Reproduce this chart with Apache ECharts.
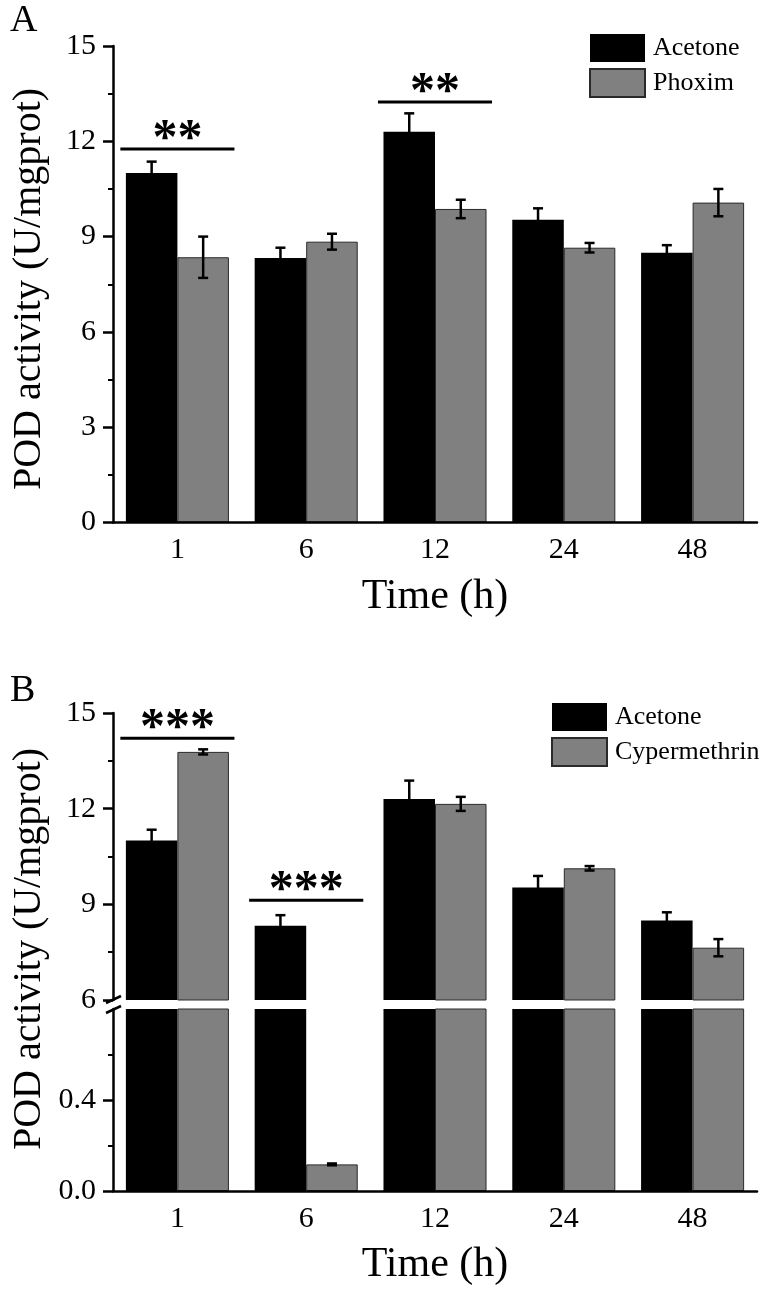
<!DOCTYPE html>
<html><head><meta charset="utf-8">
<script src="https://cdn.jsdelivr.net/npm/echarts@6/dist/echarts.min.js"></script>
<style>html,body{margin:0;padding:0;background:#fff}#c{width:764px;height:1292px}</style>
</head><body><div id="c"></div>
<script>
// ---- data ----
const categories = ['1', '6', '12', '24', '48'];
const acetoneA = [11.0, 8.33, 12.3, 9.53, 8.49];
const acetoneAErr = [0.36, 0.32, 0.58, 0.36, 0.24];
const phoxim = [8.35, 8.84, 9.87, 8.65, 10.07];
const phoximErr = [0.65, 0.25, 0.29, 0.15, 0.43];
const acetoneB = [11.0, 8.33, 12.3, 9.53, 8.49];
const acetoneBErr = [0.34, 0.33, 0.58, 0.36, 0.26];
const cypermethrin = [13.78, 0.117, 12.15, 10.13, 7.64];
const cypermethrinErr = [0.08, 0.004, 0.22, 0.07, 0.27];
const sigACat = [0, 2];
const sigAY = [11.76, 13.24];
const sigAText = ['**', '**'];
const sigBCat = [0, 1];
const sigBY = [14.21, 9.13];
const sigBText = ['***', '***'];
const yTicksA = [0, 3, 6, 9, 12, 15];
const yTicksBUpper = [6, 9, 12, 15];
const yTicksBLower = [0, 0.4];
const yLowerMax = 0.8;

// ---- styling ----
const FONT = '"Liberation Serif", "Times New Roman", serif';
const BLACK = '#000000';
const GRAY = '#808080';

const chart = echarts.init(document.getElementById('c'), null, {renderer: 'canvas'});

function xAxisCommon(gi, showName) {
  return {
    gridIndex: gi, type: 'category', data: categories, z: 5,
    axisLine: {lineStyle: {color: BLACK, width: 2.5}},
    axisTick: {alignWithLabel: true, length: 9, lineStyle: {color: BLACK, width: 2.5}},
    axisLabel: {fontFamily: FONT, fontSize: 30, color: BLACK, margin: 13},
    name: showName ? 'Time (h)' : '',
    nameLocation: 'middle', nameGap: 53,
    nameTextStyle: {fontFamily: FONT, fontSize: 42, color: BLACK}
  };
}
function yAxisCommon(gi, ticks, extra) {
  return Object.assign({
    gridIndex: gi, type: 'value', min: ticks[0], max: ticks[ticks.length - 1],
    interval: ticks[1] - ticks[0], z: 5,
    splitLine: {show: false},
    axisLine: {show: true, lineStyle: {color: BLACK, width: 2.5}},
    axisTick: {show: true, length: 10, lineStyle: {color: BLACK, width: 2.5}},
    minorTick: {show: true, splitNumber: 2, length: 5, lineStyle: {color: BLACK, width: 2}},
    axisLabel: {fontFamily: FONT, fontSize: 30, color: BLACK, margin: 17}
  }, extra || {});
}

function barSeries(name, xi, yi, data, color) {
  return {
    type: 'bar', name: name, xAxisIndex: xi, yAxisIndex: yi, data: data,
    barGap: '0%', barCategoryGap: '20%', clip: true,
    itemStyle: color === BLACK ? {color: BLACK} : {color: color, borderColor: '#2a2a2a', borderWidth: 1},
    emphasis: {disabled: true}, z: 2
  };
}

function errSeries(xi, yi, vals, errs, offset, lo, hi) {
  return {
    type: 'custom', xAxisIndex: xi, yAxisIndex: yi, z: 4, silent: true,
    data: vals.map((v, i) => [i, v, errs[i]]),
    renderItem: function (params, api) {
      const i = api.value(0), v = api.value(1), e = api.value(2);
      if (v < lo || v > hi) return null;
      const bw = api.size([1, 0])[0];
      const c = api.coord([i, v]);
      const x = c[0] + offset * bw;
      const yt = api.coord([i, Math.min(v + e, hi)])[1];
      const yb = api.coord([i, Math.max(v - e, lo)])[1];
      const hw = 5;
      const st = {stroke: BLACK, lineWidth: 2.5};
      return {type: 'group', children: [
        {type: 'line', shape: {x1: x, y1: yt, x2: x, y2: yb}, style: st},
        {type: 'line', shape: {x1: x - hw, y1: yt, x2: x + hw, y2: yt}, style: st},
        {type: 'line', shape: {x1: x - hw, y1: yb, x2: x + hw, y2: yb}, style: st}
      ]};
    }
  };
}

function sigSeries(xi, yi, cats, ys, texts) {
  return {
    type: 'custom', xAxisIndex: xi, yAxisIndex: yi, z: 6, silent: true,
    data: cats.map((c, i) => [c, ys[i]]),
    renderItem: function (params, api) {
      const i = api.value(0), v = api.value(1);
      const bw = api.size([1, 0])[0];
      const c = api.coord([i, v]);
      const hw = 0.443 * bw;
      return {type: 'group', children: [
        {type: 'line', shape: {x1: c[0] - hw, y1: c[1], x2: c[0] + hw, y2: c[1]},
         style: {stroke: BLACK, lineWidth: 3}},
        {type: 'text', x: c[0], y: c[1] - 9,
         style: {text: texts[params.dataIndex], font: 'bold 50px ' + FONT, fill: BLACK,
                 textAlign: 'center', textVerticalAlign: 'middle'}}
      ]};
    }
  };
}

const legendCommon = {
  orient: 'vertical', itemWidth: 55, itemHeight: 28, itemGap: 6, icon: 'rect',
  padding: 0, selectedMode: false,
  textStyle: {fontFamily: FONT, fontSize: 26, color: BLACK, padding: [0, 0, 0, 3]}
};

const option = {
  backgroundColor: '#ffffff',
  animation: false,
  grid: [
    {left: 113, top: 46, width: 644, height: 476.5},
    {left: 113, top: 713, width: 644, height: 287},
    {left: 113, top: 1009, width: 644, height: 182}
  ],
  legend: [
    Object.assign({data: ['Acetone', 'Phoxim'], left: 589, top: 34}, legendCommon),
    Object.assign({data: ['Acetone', 'Cypermethrin'], left: 551, top: 703}, legendCommon)
  ],
  xAxis: [
    xAxisCommon(0, true),
    Object.assign(xAxisCommon(1, false), {show: false}),
    xAxisCommon(2, true)
  ],
  yAxis: [
    yAxisCommon(0, yTicksA),
    yAxisCommon(1, yTicksBUpper),
    yAxisCommon(2, [yTicksBLower[0], yLowerMax], {
      interval: yTicksBLower[1] - yTicksBLower[0],
      axisLabel: {fontFamily: FONT, fontSize: 30, color: BLACK, margin: 17,
                  customValues: yTicksBLower, formatter: v => Number(v).toFixed(1)},
      axisTick: {show: true, length: 10, lineStyle: {color: BLACK, width: 2.5}, customValues: yTicksBLower}
    })
  ],
  series: [
    barSeries('Acetone', 0, 0, acetoneA, BLACK),
    barSeries('Phoxim', 0, 0, phoxim, GRAY),
    barSeries('Acetone', 1, 1, acetoneB, BLACK),
    barSeries('Cypermethrin', 1, 1, cypermethrin, GRAY),
    barSeries('Acetone', 2, 2, acetoneB, BLACK),
    barSeries('Cypermethrin', 2, 2, cypermethrin, GRAY),
    errSeries(0, 0, acetoneA, acetoneAErr, -0.2, 0, 15),
    errSeries(0, 0, phoxim, phoximErr, 0.2, 0, 15),
    errSeries(1, 1, acetoneB, acetoneBErr, -0.2, 6, 15),
    errSeries(1, 1, cypermethrin, cypermethrinErr, 0.2, 6, 15),
    errSeries(2, 2, acetoneB, acetoneBErr, -0.2, 0, yLowerMax),
    errSeries(2, 2, cypermethrin, cypermethrinErr, 0.2, 0, yLowerMax),
    sigSeries(0, 0, sigACat, sigAY, sigAText),
    sigSeries(1, 1, sigBCat, sigBY, sigBText)
  ],
  graphic: [
    {type: 'text', left: 10, top: 2, style: {text: 'A', font: '38px ' + FONT, fill: BLACK}},
    {type: 'text', left: 10, top: 672, style: {text: 'B', font: '38px ' + FONT, fill: BLACK}},
    {type: 'text', x: 29, y: 289, rotation: Math.PI / 2,
     style: {text: 'POD activity (U/mgprot)', font: '40px ' + FONT, fill: BLACK,
             textAlign: 'center', textVerticalAlign: 'middle'}},
    {type: 'text', x: 29, y: 949, rotation: Math.PI / 2,
     style: {text: 'POD activity (U/mgprot)', font: '40px ' + FONT, fill: BLACK,
             textAlign: 'center', textVerticalAlign: 'middle'}},
    {type: 'line', shape: {x1: 106, y1: 1003, x2: 121, y2: 996}, style: {stroke: BLACK, lineWidth: 2.5}},
    {type: 'line', shape: {x1: 106, y1: 1013, x2: 121, y2: 1006}, style: {stroke: BLACK, lineWidth: 2.5}}
  ]
};
chart.setOption(option);
</script>
</body></html>
